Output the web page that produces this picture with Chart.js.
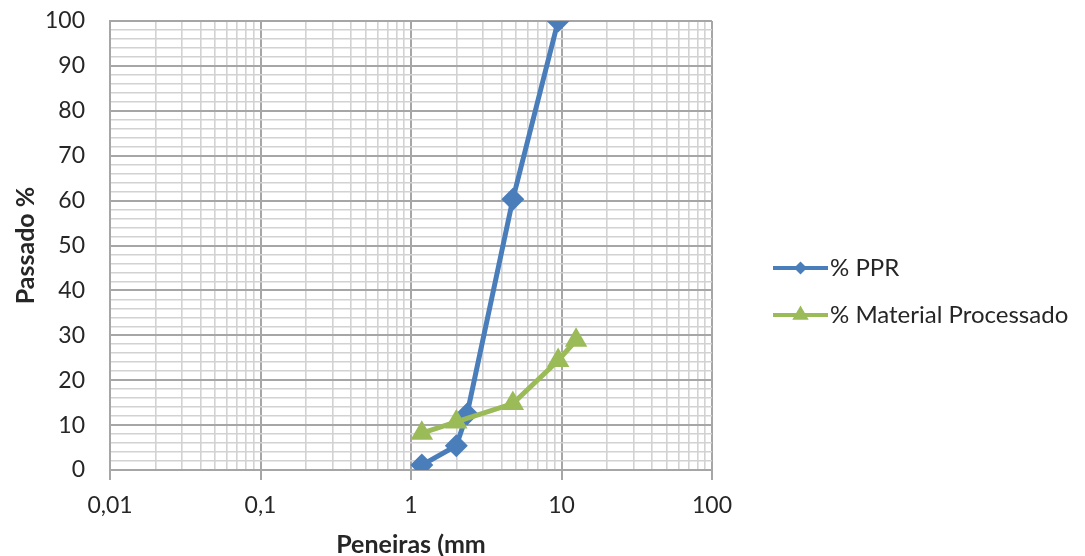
<!DOCTYPE html>
<html>
<head>
<meta charset="utf-8">
<script src="https://cdn.jsdelivr.net/npm/chart.js@4.4.0/dist/chart.umd.min.js"></script>
<style>
html, body { margin: 0; padding: 0; background: #fff; }
#wrap { width: 1085px; height: 556px; }
</style>
</head>
<body>
<div id="wrap"><canvas id="chart"></canvas></div>
<script>
// sieve openings (mm) and % passing
const pprSieves = [1.18, 2.0, 2.36, 4.75, 9.5];
const pprPassing = [1.1, 5.4, 12.5, 60.3, 100];
const matSieves = [1.18, 2.0, 4.75, 9.5, 12.5];
const matPassing = [8.2, 10.7, 14.8, 24.4, 28.9];

const xTickValues = [0.01, 0.1, 1, 10, 100];
const xTickLabels = ['0,01', '0,1', '1', '10', '100'];

const blue = '#4a7ebb';
const green = '#9bbb59';
const majorGrid = '#a6a6a6';
const minorGrid = '#d2d2d2';
const fontFamily = 'Lato, "Open Sans", sans-serif';

Chart.defaults.font.family = fontFamily;
Chart.defaults.font.size = 23;
Chart.defaults.color = '#262626';

const toPoints = (xs, ys) => xs.map((x, i) => ({ x: x, y: ys[i] }));

// is this a power of ten (decade line)?
function isDecade(v) {
  return xTickValues.some(t => Math.abs(v - t) / t < 1e-6);
}

// legend on the right: line + marker, like the spreadsheet one
const sideLegend = {
  id: 'sideLegend',
  afterDraw(chart) {
    const ctx = chart.ctx;
    const x0 = chart.chartArea.right + 61;
    const lineW = 55;
    chart.data.datasets.forEach((ds, i) => {
      const y = chart.height / 2 - 10 + i * 47;
      ctx.save();
      ctx.strokeStyle = ds.borderColor;
      ctx.lineWidth = 4;
      ctx.beginPath();
      ctx.moveTo(x0, y);
      ctx.lineTo(x0 + lineW, y);
      ctx.stroke();
      ctx.fillStyle = ds.backgroundColor;
      Chart.helpers.drawPoint(ctx, {
        pointStyle: ds.pointStyle,
        radius: ds.pointStyle === 'triangle' ? 9.5 : 6.5,
        borderWidth: 0
      }, x0 + lineW / 2, y);
      ctx.fillStyle = '#262626';
      ctx.font = '24px ' + fontFamily;
      ctx.textBaseline = 'middle';
      ctx.fillText(ds.label, x0 + lineW + 2, y);
      ctx.restore();
    });
  }
};

const ctx = document.getElementById('chart').getContext('2d');
const chart = new Chart(ctx, {
  type: 'scatter',
  data: {
    datasets: [{
      label: '% PPR',
      data: toPoints(pprSieves, pprPassing),
      showLine: true,
      borderColor: blue,
      backgroundColor: blue,
      borderWidth: 5,
      pointStyle: 'rectRot',
      pointRadius: 11.5,
      pointBorderWidth: 0,
      order: 2
    }, {
      label: '% Material Processado',
      data: toPoints(matSieves, matPassing),
      showLine: true,
      borderColor: green,
      backgroundColor: green,
      borderWidth: 5,
      pointStyle: 'triangle',
      pointRadius: 13,
      pointBorderWidth: 0,
      order: 1
    }]
  },
  options: {
    responsive: true,
    maintainAspectRatio: false,
    animation: false,
    layout: { padding: { top: 21, right: 373, bottom: 0, left: 0 } },
    plugins: {
      legend: { display: false },
      tooltip: { enabled: false }
    },
    scales: {
      x: {
        type: 'logarithmic',
        min: 0.01,
        max: 100,
        afterBuildTicks(scale) {
          const t = [];
          for (let e = -2; e < 2; e++) {
            for (let m = 1; m < 10; m++) {
              t.push({ value: +(m * Math.pow(10, e)).toPrecision(3) });
            }
          }
          t.push({ value: 100 });
          scale.ticks = t;
        },
        afterFit(scale) { scale.height = 86; },
        ticks: {
          autoSkip: false,
          maxRotation: 0,
          padding: 12,
          callback(value) {
            const i = xTickValues.findIndex(t => Math.abs(value - t) / t < 1e-6);
            return i >= 0 ? xTickLabels[i] : '';
          }
        },
        grid: {
          color: c => (c.tick && isDecade(c.tick.value)) ? majorGrid : minorGrid,
          lineWidth: c => (c.tick && isDecade(c.tick.value)) ? 2 : 1.6,
          tickColor: c => (c.tick && isDecade(c.tick.value)) ? majorGrid : 'rgba(0,0,0,0)',
          tickLength: 10
        },
        border: { color: majorGrid, width: 2 },
        title: {
          display: true,
          text: 'Peneiras (mm',
          font: { size: 25, weight: 'bold', lineHeight: 0.85 },
          padding: { top: 0, bottom: 0 }
        }
      },
      y: {
        min: 0,
        max: 100,
        afterFit(scale) { scale.width = 110; },
        ticks: {
          stepSize: 2,
          autoSkip: false,
          padding: 0,
          callback: v => (v % 10 === 0 ? String(v) : '')
        },
        grid: {
          color: c => (c.tick && c.tick.value % 10 === 0) ? majorGrid : minorGrid,
          lineWidth: c => (c.tick && c.tick.value % 10 === 0) ? 2 : 1.6,
          // invisible tick marks just keep the labels off the axis
          tickColor: 'rgba(0,0,0,0)',
          tickLength: 25
        },
        border: { color: majorGrid, width: 2 },
        title: {
          display: true,
          text: 'Passado %',
          font: { size: 25, weight: 'bold', lineHeight: 1 },
          padding: { top: 13, bottom: 0 }
        }
      }
    }
  },
  plugins: [sideLegend]
});
</script>
</body>
</html>
